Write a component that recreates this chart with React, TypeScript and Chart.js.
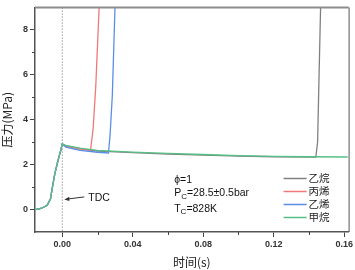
import React, { useEffect, useRef } from 'react';
import { Chart, registerables } from 'chart.js';
Chart.register(...registerables);

// shared compression stroke (before TDC)
const compressionTime = [-0.0155, -0.013, -0.0109, -0.0086, -0.0067, -0.0056, -0.0043, -0.0025, -0.001, 0];
const compressionP = [0.0, 0.03, 0.09, 0.19, 0.48, 1.0, 1.58, 2.17, 2.6, 2.92];

// after TDC, per fuel
const ethaneTime = [0.002, 0.01, 0.02, 0.04, 0.06, 0.08, 0.10, 0.12, 0.1439, 0.1449, 0.1456, 0.1466, 0.1472];
const ethaneP = [2.82, 2.7, 2.6, 2.53, 2.47, 2.42, 2.38, 2.35, 2.34, 3.0, 5.5, 9.0, 10.5];
const propeneTime = [0.002, 0.01, 0.016, 0.0175, 0.019, 0.0209, 0.0215];
const propeneP = [2.82, 2.7, 2.63, 3.6, 5.5, 9.0, 10.5];
const ethyleneTime = [0.002, 0.01, 0.02, 0.0262, 0.0271, 0.0284, 0.0299, 0.0305];
const ethyleneP = [2.78, 2.63, 2.55, 2.52, 3.3, 5.1, 9.0, 10.5];
const methaneTime = [0.002, 0.01, 0.02, 0.04, 0.06, 0.08, 0.10, 0.12, 0.14, 0.162];
const methaneP = [2.86, 2.73, 2.63, 2.56, 2.5, 2.45, 2.4, 2.37, 2.35, 2.34];

const seriesNames = ['乙烷', '丙烯', '乙烯', '甲烷'];
const seriesColors = ['#808080', '#f07878', '#5a8ee8', '#55c085'];

const xMajorTicks = [0, 0.04, 0.08, 0.12, 0.16];
const xMinorTicks = [0.02, 0.06, 0.10, 0.14];
const yMajorTicks = [0, 2, 4, 6, 8];
const yMinorTicks = [1, 3, 5, 7];

const X_MIN = -0.0155;
const X_MAX = 0.1625;
const Y_MIN = -1;
const Y_MAX = 9;

function buildPoints(t: number[], p: number[]) {
  const ts = compressionTime.concat(t);
  const ps = compressionP.concat(p);
  return ts.map((x, i) => ({ x, y: ps[i] }));
}

const overlayPlugin = {
  id: 'overlay',
  beforeDatasetsDraw(chart: any) {
    const { ctx, chartArea, scales } = chart;
    const x0 = scales.x.getPixelForValue(0);
    ctx.save();
    ctx.strokeStyle = '#9a9a9a';
    ctx.lineWidth = 1;
    ctx.setLineDash([1.5, 1.5]);
    ctx.beginPath();
    ctx.moveTo(x0, chartArea.top);
    ctx.lineTo(x0, chartArea.bottom);
    ctx.stroke();
    ctx.restore();
  },
  afterDraw(chart: any) {
    const { ctx, chartArea, scales } = chart;
    const xs = scales.x;
    const ys = scales.y;
    ctx.save();
    // frame top & right
    ctx.strokeStyle = '#8c8c8c';
    ctx.lineWidth = 2;
    ctx.beginPath();
    ctx.moveTo(chartArea.left, chartArea.top);
    ctx.lineTo(chartArea.right, chartArea.top);
    ctx.stroke();
    ctx.strokeStyle = '#555';
    ctx.lineWidth = 1;
    ctx.beginPath();
    ctx.moveTo(chartArea.right + 0.5, chartArea.top);
    ctx.lineTo(chartArea.right + 0.5, chartArea.bottom);
    ctx.stroke();
    // minor ticks
    ctx.strokeStyle = '#444';
    ctx.lineWidth = 1;
    ctx.beginPath();
    yMinorTicks.forEach((v) => {
      const y = Math.round(ys.getPixelForValue(v)) + 0.5;
      ctx.moveTo(chartArea.left, y);
      ctx.lineTo(chartArea.left - 3, y);
    });
    xMinorTicks.forEach((v) => {
      const x = Math.round(xs.getPixelForValue(v)) + 0.5;
      ctx.moveTo(x, chartArea.bottom);
      ctx.lineTo(x, chartArea.bottom + 3);
    });
    ctx.stroke();

    // TDC arrow
    const tipX = xs.getPixelForValue(0) + 2;
    const tipY = ys.getPixelForValue(0.45);
    const tailX = tipX + 20;
    const tailY = tipY - 2.5;
    ctx.strokeStyle = '#333';
    ctx.fillStyle = '#333';
    ctx.lineWidth = 1;
    ctx.beginPath();
    ctx.moveTo(tailX, tailY);
    ctx.lineTo(tipX + 4, tipY - 0.5);
    ctx.stroke();
    ctx.beginPath();
    ctx.moveTo(tipX, tipY);
    ctx.lineTo(tipX + 5, tipY - 2.6);
    ctx.lineTo(tipX + 5, tipY + 1.6);
    ctx.closePath();
    ctx.fill();
    ctx.font = '10.5px "Liberation Sans", Arial, sans-serif';
    ctx.textBaseline = 'middle';
    ctx.textAlign = 'left';
    ctx.fillStyle = '#111';
    ctx.fillText('TDC', tailX + 4, tipY - 1);

    // conditions text
    const tx = xs.getPixelForValue(0.0635);
    const font = '10.5px "Liberation Sans", Arial, sans-serif';
    const subFont = '8px "Liberation Sans", Arial, sans-serif';
    const y1 = ys.getPixelForValue(1.29);
    const y2 = ys.getPixelForValue(0.72);
    const y3 = ys.getPixelForValue(0.02);
    ctx.font = font;
    ctx.fillText('ϕ=1', tx, y1);
    ctx.fillText('P', tx, y2);
    let w = ctx.measureText('P').width;
    ctx.font = subFont;
    ctx.fillText('C', tx + w, y2 + 3);
    let w2 = ctx.measureText('C').width;
    ctx.font = font;
    ctx.fillText('=28.5±0.5bar', tx + w + w2, y2);
    ctx.fillText('T', tx, y3);
    w = ctx.measureText('T').width;
    ctx.font = subFont;
    ctx.fillText('C', tx + w, y3 + 3);
    w2 = ctx.measureText('C').width;
    ctx.font = font;
    ctx.fillText('=828K', tx + w + w2, y3);

    // legend
    const lx = chartArea.right - 65;
    let ly = chartArea.bottom - 53.5;
    seriesNames.forEach((name, i) => {
      ctx.strokeStyle = seriesColors[i];
      ctx.lineWidth = 1.5;
      ctx.beginPath();
      ctx.moveTo(lx, ly);
      ctx.lineTo(lx + 23, ly);
      ctx.stroke();
      ctx.fillStyle = '#222';
      ctx.font = '10.5px "Noto Sans CJK SC", sans-serif';
      ctx.fillText(name, lx + 25, ly);
      ly += 13;
    });
    ctx.restore();
  },
};

export default function App() {
  const ref = useRef<HTMLCanvasElement | null>(null);
  useEffect(() => {
    if (!ref.current) return;
    const tickFont = { family: '"Liberation Sans", Arial, sans-serif', size: 9, weight: 'bold' as const };
    const titleFont = { family: '"Noto Sans CJK SC", "Liberation Sans", sans-serif', size: 12 };
    const chart = new Chart(ref.current, {
      type: 'line',
      data: {
        datasets: [
          { label: seriesNames[0], data: buildPoints(ethaneTime, ethaneP), borderColor: seriesColors[0], order: 3 },
          { label: seriesNames[1], data: buildPoints(propeneTime, propeneP), borderColor: seriesColors[1], order: 2 },
          { label: seriesNames[2], data: buildPoints(ethyleneTime, ethyleneP), borderColor: seriesColors[2], order: 1 },
          { label: seriesNames[3], data: buildPoints(methaneTime, methaneP), borderColor: seriesColors[3], order: 0 },
        ].map((d) => ({ ...d, borderWidth: 1.3, pointRadius: 0, tension: 0, fill: false })),
      },
      options: {
        animation: false,
        responsive: false,
        events: [],
        layout: { padding: { left: 0, right: 3, top: 5, bottom: 0 } },
        plugins: { legend: { display: false }, tooltip: { enabled: false } },
        scales: {
          x: {
            type: 'linear',
            min: X_MIN,
            max: X_MAX,
            afterBuildTicks: (s: any) => { s.ticks = xMajorTicks.map((v) => ({ value: v })); },
            afterFit: (s: any) => { s.height = 38; },
            grid: { drawOnChartArea: false, drawTicks: true, tickLength: 5, color: '#444', lineWidth: 1 },
            border: { display: true, color: '#555', width: 1.5 },
            ticks: { font: tickFont, color: '#333', padding: 2, maxRotation: 0, autoSkip: false, callback: (v: any) => Number(v).toFixed(2) },
            title: { display: true, text: '时间(s)', font: titleFont, color: '#222', padding: { top: 0, bottom: 0 } },
          },
          y: {
            type: 'linear',
            min: Y_MIN,
            max: Y_MAX,
            afterBuildTicks: (s: any) => { s.ticks = yMajorTicks.map((v) => ({ value: v })); },
            afterFit: (s: any) => { s.width = 35; },
            grid: { drawOnChartArea: false, drawTicks: true, tickLength: 5, color: '#444', lineWidth: 1 },
            border: { display: true, color: '#555', width: 1.5 },
            ticks: { font: tickFont, color: '#333', padding: 2, autoSkip: false, callback: (v: any) => String(v) },
            title: { display: true, text: '压力(MPa)', font: titleFont, color: '#222', padding: { top: 0, bottom: 0 } },
          },
        },
      },
      plugins: [overlayPlugin],
    } as any);
    return () => chart.destroy();
  }, []);
  return (
    <div style={{ position: 'fixed', left: 0, top: 0, width: 355, height: 270, background: '#fff' }}>
      <canvas ref={ref} width={355} height={270} style={{ width: 355, height: 270, display: 'block' }} />
    </div>
  );
}
